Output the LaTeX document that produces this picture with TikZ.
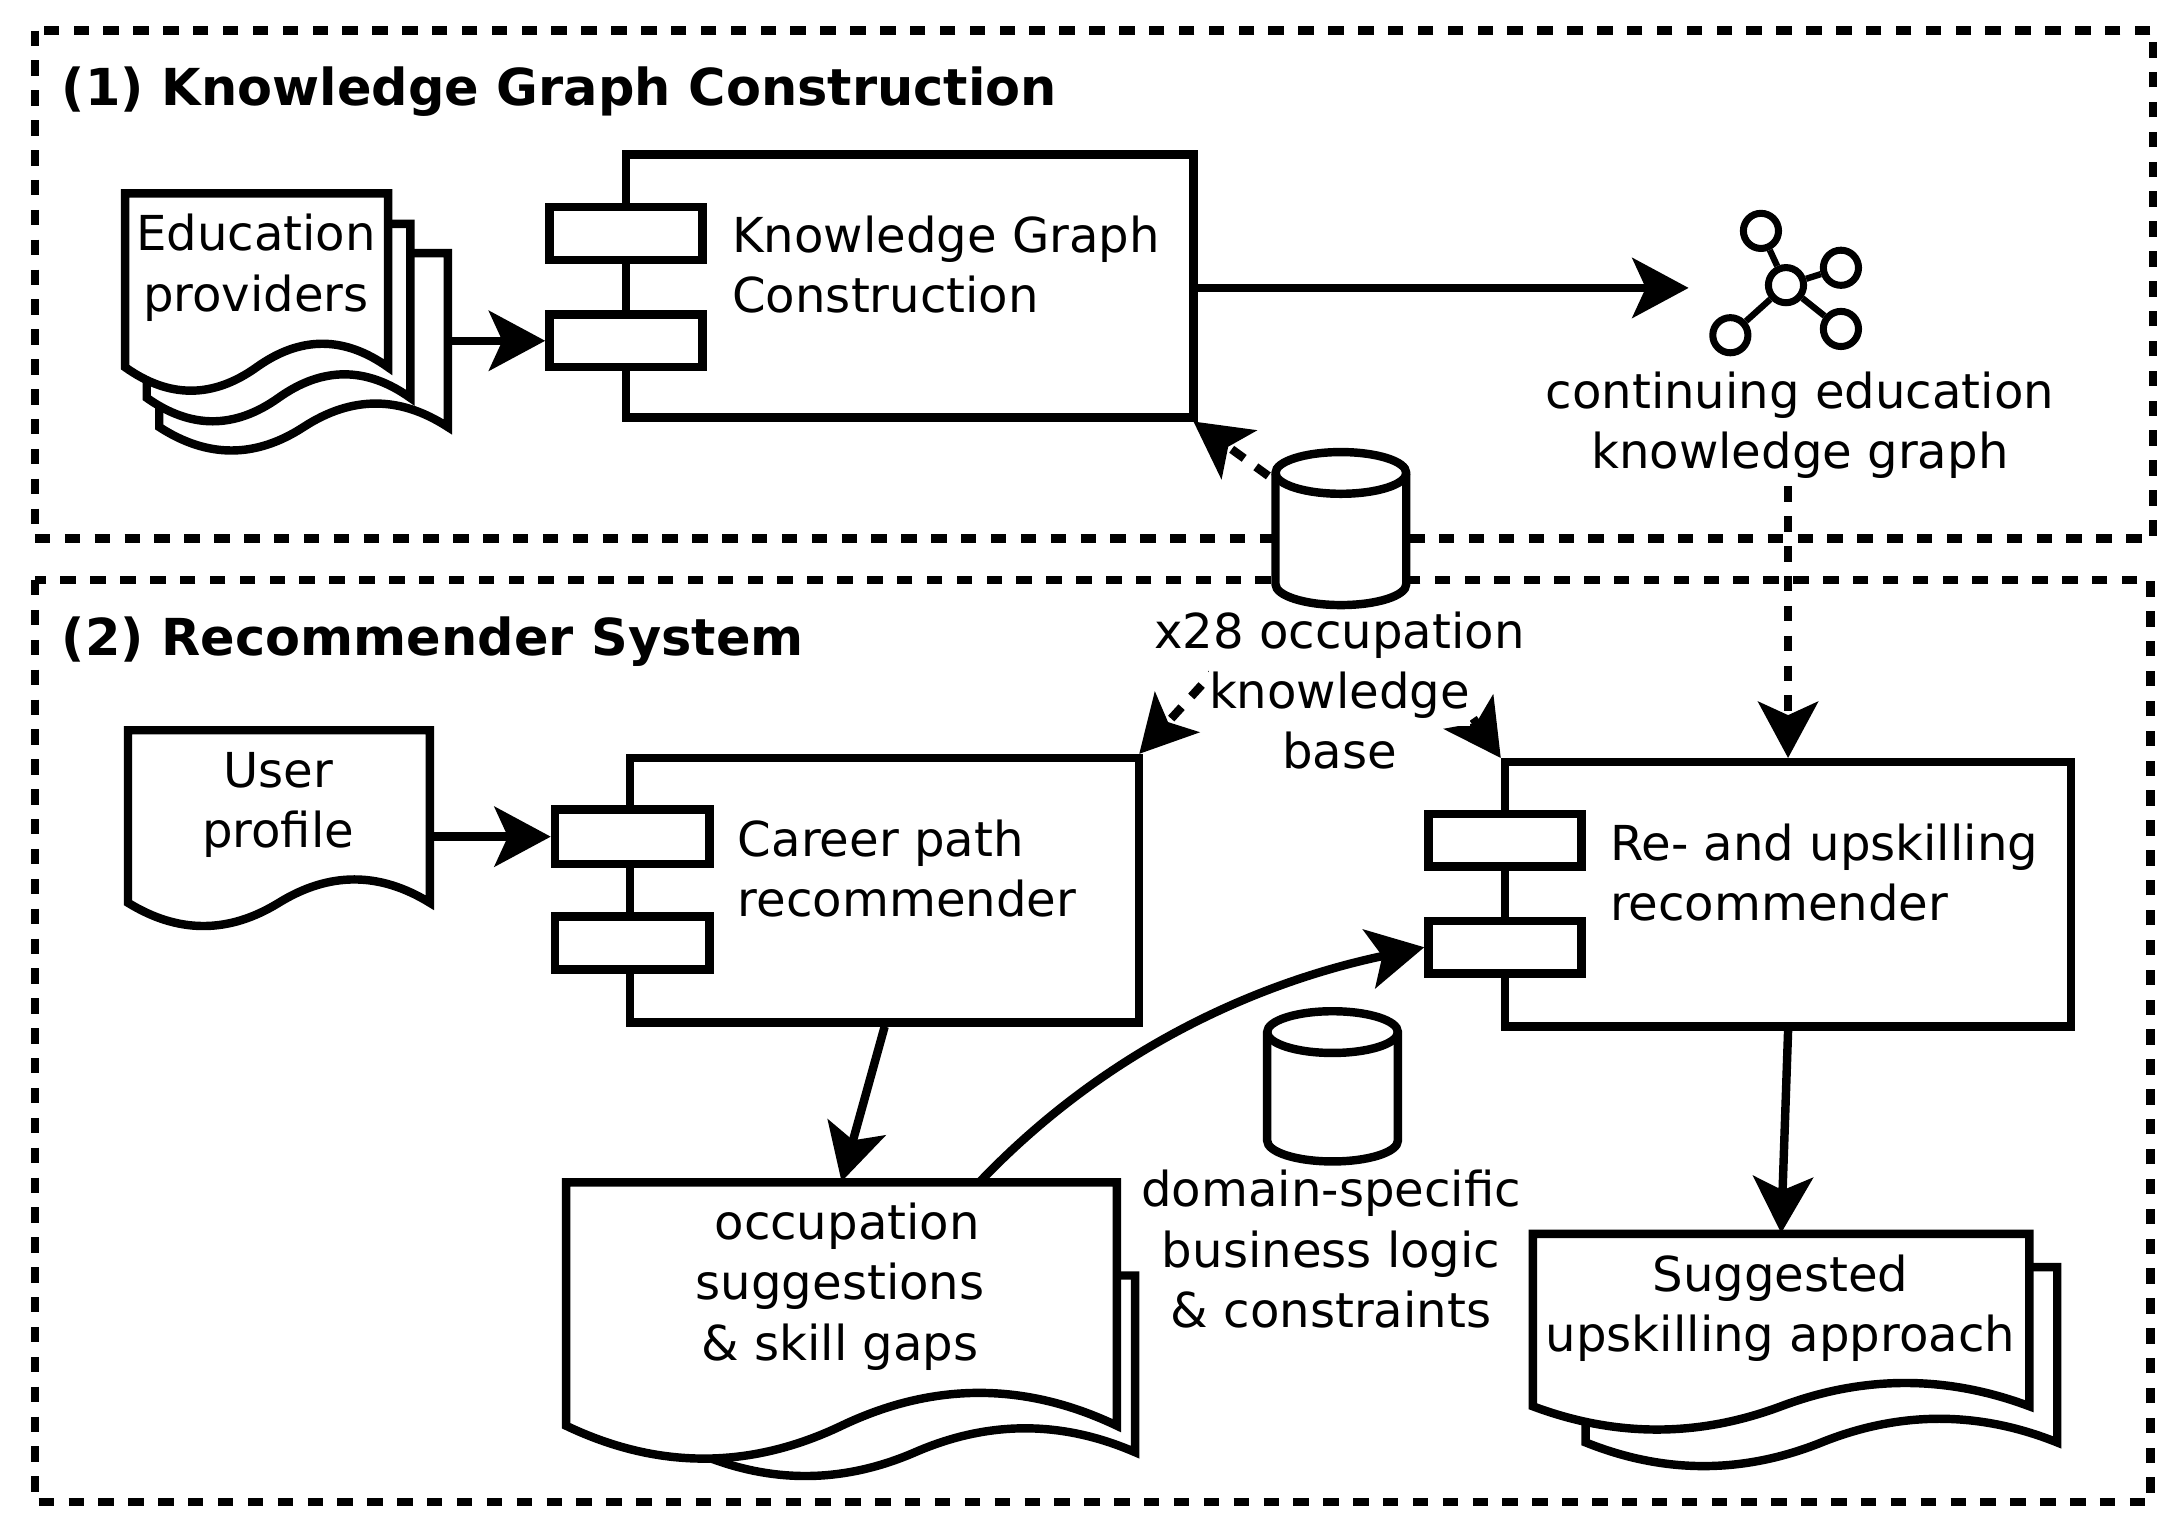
\documentclass[tikz,border=0pt]{standalone}
\usepackage{fontspec}
\setmainfont{DejaVu Sans}
\usetikzlibrary{arrows.meta,calc,fit,positioning}

\begin{document}
\begin{tikzpicture}[x=0.1391mm, y=-0.1391mm,
        line join=miter,
        frame/.style={black, line width=2.4pt, dash pattern=on 4.4pt off 4.1pt},
        comp/.style={draw=black, fill=white, line width=2.4pt, inner sep=0pt},
        page/.style={draw=black, fill=white, line width=2.4pt},
        ghost/.style={inner sep=0pt},
        conn/.style={black, line width=2.4pt, -{Stealth[length=16pt,width=17pt,inset=3.8pt]}},
        uses/.style={conn, dash pattern=on 4.4pt off 4.1pt},
        gnode/.style={circle, draw=black, fill=white, line width=2pt, minimum size=10pt, inner sep=0pt},
        lbl/.style={font=\fontsize{13.7}{17.1}\selectfont, align=center, inner sep=0pt},
        lblleft/.style={lbl, align=left, anchor=west},
        lblbg/.style={lbl, fill=white, text height=12.5pt, text depth=5pt},
        title/.style={font=\fontsize{14.5}{18}\selectfont\bfseries, anchor=west, inner sep=0pt}]
        \useasboundingbox (0,0) rectangle (1568,1097.8);

        \def\drawPage#1#2#3#4{ % left, top, right, bottom of one sheet
        \pgfmathsetmacro\w{#3-#1}
        \pgfmathsetmacro\a{0.18*(#4-#2)}
        \draw[page] (#1,#2) -- (#3,#2) -- (#3,#4)
        .. controls (#3-0.1667*\w,#4-\a) and (#3-0.3333*\w,#4-\a) .. (#3-0.5*\w,#4)
        .. controls (#3-0.6667*\w,#4+\a) and (#3-0.8333*\w,#4+\a) .. (#1,#4) -- cycle;
        }
        \def\drawDb#1#2#3#4{ % name, left, top, bottom of a cylinder
        \pgfmathsetmacro\r{47}
        \draw[page] (#2,#3+15) arc[start angle=180, end angle=360, x radius=\r, y radius=15]
        -- (#2+2*\r,#4-15) arc[start angle=0, end angle=180, x radius=\r, y radius=15] -- cycle;
        \draw[page, fill=none] (#2,#3+15) arc[start angle=180, end angle=0, x radius=\r, y radius=15];
        \node[ghost, fit={(#2,#3) (#2+2*\r,#4)}] (#1) {};
        }

        % MAIN FRAMES
        \draw[frame] (25,22) rectangle (1548,387);
        \draw[frame] (25,417) rectangle (1546,1080);
        \node[title] (titleKg) at (44,66) {(1) Knowledge Graph Construction};
        \node[title] (titleRec) at (44,461) {(2) Recommender System};

        % COMPONENTS
        \node[comp, fit={(450,111) (858,300)}] (kgc) {};
        \node[comp, fit={(395,149) (505,187)}] (kgcA) {};
        \node[comp, fit={(395,226) (505,264)}] (kgcB) {};
        \node[comp, fit={(453,545) (819,735)}] (career) {};
        \node[comp, fit={(399,582) (510,621)}] (careerA) {};
        \node[comp, fit={(399,659) (510,697)}] (careerB) {};
        \node[comp, fit={(1082,548) (1489,738)}] (reup) {};
        \node[comp, fit={(1027,585) (1137,623)}] (reupA) {};
        \node[comp, fit={(1027,662) (1137,700)}] (reupB) {};
        \node[lblleft] (kgcText) at (526,190.5) {Knowledge Graph\\Construction};
        \node[lblleft] (careerText) at (530,624.5) {Career path\\recommender};
        \node[lblleft] (reupText) at (1157,627) {Re- and upskilling\\recommender};

        % DOCUMENTS
        \foreach \l/\t/\r/\b in {114.5/182/322/307, 105.5/161/295/286, 90/139/279/264}{
        \drawPage{\l}{\t}{\r}{\b}
        }
        \node[ghost, fit={(90,139) (322,307)}] (docEdu) {};
        \drawPage{92}{525}{309}{649}
        \node[ghost, fit={(92,525) (309,649)}] (docUser) {};
        \drawPage{500}{917}{816}{1044}
        \drawPage{407}{850}{803}{1025}
        \node[ghost, fit={(407,850) (803,1025)}] (docOcc) {};
        \drawPage{1140}{911}{1479}{1037}
        \drawPage{1102}{887}{1459}{1011}
        \node[ghost, fit={(1102,887) (1459,1011)}] (docSug) {};
        \node[lbl] (eduText) at (184,192.5) {Education\\providers};
        \node[lbl] (userText) at (200,578.5) {User\\profile};
        \node[lbl] (occText) at (604,925) {\hspace*{4pt}occupation\\suggestions\\\& skill gaps};
        \node[lbl] (sugText) at (1280,940.5) {Suggested\\upskilling approach};

        % CONNECTORS
        \coordinate (graphIn) at (1214,207);
        \coordinate (occOut) at (705,849);
        \coordinate (dbKnow) at (964,380);
        \coordinate (dbToCareer) at ($(dbKnow)!0.4!(career.north east)$);
        \coordinate (dbToReup) at ($(dbKnow)!0.4!(reup.north west)$);
        \node[lblbg] (graphA) at (1294,284) {continuing education};
        \node[lblbg] (graphB) at (1294,327) {knowledge graph};
        \draw[conn] (docEdu.east |- kgcB) -- (kgcB.west);
        \draw[conn] (kgc.east |- graphIn) -- (graphIn);
        \draw[conn] (docUser.east |- careerA) -- (careerA.west);
        \draw[conn] (career.south) -- (docOcc.north);
        \draw[conn] (reup.south) -- (docSug.north);
        \draw[conn] (occOut) .. controls (800,750) and (910,705) .. (reupB.west);
        \draw[uses] (dbKnow) -- ([xshift=-1.2pt]kgc.south east);
        \draw[uses] (dbToCareer) -- ([xshift=-1.2pt]career.north east);
        \draw[uses] (dbToReup) -- (reup.north west);
        \draw[uses] (reup.north |- graphB.south) -- (reup.north);

        % TEXT WITH BACKGROUND
        \node[lblbg] (occA) at (963,457) {x28 occupation};
        \node[lblbg] (occB) at (963,500) {knowledge};
        \node[lblbg] (occC) at (963,543) {base};
        \node[lblbg] (bizA) at (957,858) {domain-specific};
        \node[lblbg] (bizB) at (957,902) {business logic};
        \node[lblbg] (bizC) at (957,945) {\& constraints};

        % CYLINDERS
        \drawDb{dbOcc}{917}{325}{435}
        \drawDb{dbBiz}{911}{727}{835}

        % GRAPH ICON
        \node[gnode] (gHub) at (1284,205) {};
        \node[gnode] (gTop) at (1266,166) {};
        \node[gnode] (gRight) at (1323.5,192.5) {};
        \node[gnode] (gLow) at (1323.5,236.5) {};
        \node[gnode] (gLeft) at (1244,241) {};
        \foreach \n in {gTop,gRight,gLow,gLeft}{
        \draw[black, line width=1.8pt] (gHub) -- (\n);
        }
    \end{tikzpicture}
\end{document}
